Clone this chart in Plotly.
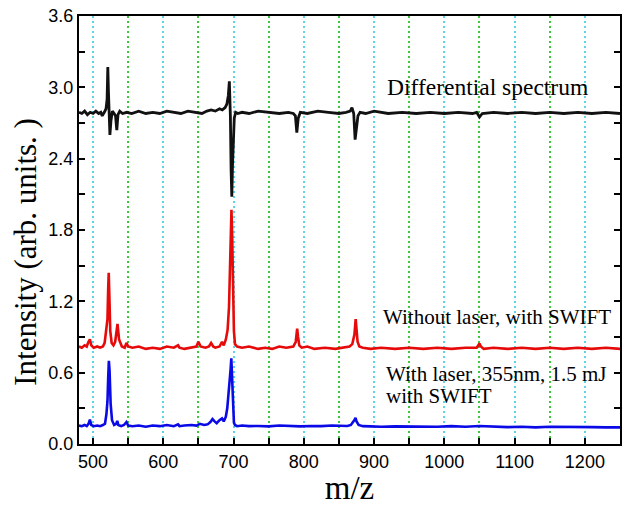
import plotly.graph_objects as go

# ---- spectra (m/z, intensity in arb. units) ----
# With laser, 355 nm, 1.5 mJ, with SWIFT
laser_mz = [480, 484, 488, 491, 493.5, 495.5, 497.5, 501, 506, 510, 514, 517, 519, 520.5,
            521.5, 522.5, 523.5, 525, 527, 530, 533, 534.5, 536, 540, 544, 547.5, 550,
            556, 565, 575, 585, 595, 605, 615, 621, 623, 630, 640, 647, 652, 658, 663,
            667, 670, 673, 676, 680, 683.5, 686, 689, 691, 693, 694.5, 695.8, 696.8,
            697.8, 699, 700.5, 702, 705, 712, 722, 735, 750, 765, 780, 795, 810, 825,
            840, 852, 862, 867, 870.5, 872.5, 873.6, 875, 878, 884, 895, 910, 930, 950,
            970, 990, 1010, 1030, 1050, 1070, 1090, 1110, 1130, 1150, 1170, 1190, 1210,
            1230, 1250]
laser_int = [0.155, 0.15, 0.16, 0.15, 0.17, 0.205, 0.16, 0.15, 0.155, 0.15, 0.16, 0.17, 0.25, 0.36,
             0.55, 0.70, 0.62, 0.34, 0.2, 0.16, 0.17, 0.195, 0.16, 0.15, 0.16, 0.185, 0.155,
             0.15, 0.155, 0.145, 0.155, 0.15, 0.16, 0.15, 0.165, 0.15, 0.155, 0.16, 0.155, 0.17, 0.16, 0.165,
             0.185, 0.21, 0.19, 0.175, 0.2, 0.215, 0.19, 0.23, 0.3, 0.42, 0.5, 0.63, 0.72,
             0.6, 0.35, 0.18, 0.16, 0.15, 0.155, 0.15, 0.152, 0.148, 0.155, 0.15, 0.148, 0.152, 0.15,
             0.155, 0.15, 0.152, 0.16, 0.185, 0.205, 0.22, 0.19, 0.16, 0.15, 0.148, 0.145, 0.148, 0.145,
             0.148, 0.145, 0.15, 0.145, 0.152, 0.145, 0.142, 0.145, 0.14, 0.145, 0.142, 0.14, 0.142,
             0.14, 0.14]

# Without laser, with SWIFT
dark_mz = [480, 484, 488, 491, 493.5, 495.5, 497.5, 501, 506, 510, 514, 516.5, 518.5, 520.5,
           521.5, 522.3, 523.2, 524.5, 526.5, 529, 531.5, 533, 534.8, 537, 541, 545, 547.5,
           550, 556, 565, 575, 585, 595, 605, 615, 621, 623, 630, 640, 647, 650, 653, 660,
           665, 668, 671, 674, 680, 683.5, 686, 689, 691.5, 693.5, 695, 696, 697, 698,
           699.2, 700.5, 702, 705, 712, 722, 735, 745, 755, 765, 775, 785, 788.5, 790.5,
           791.8, 793.5, 797, 805, 815, 830, 845, 858, 865, 869, 872, 873.8, 875, 876.5,
           879, 884, 895, 910, 930, 950, 970, 990, 1010, 1030, 1046, 1050, 1052, 1056,
           1070, 1090, 1110, 1130, 1150, 1170, 1190, 1210, 1230, 1250]
dark_int = [0.82, 0.81, 0.83, 0.82, 0.86, 0.88, 0.83, 0.81, 0.82, 0.81, 0.82, 0.85, 0.95, 1.05,
            1.3, 1.44, 1.25, 0.95, 0.85, 0.83, 0.86, 0.95, 1.01, 0.88, 0.82, 0.81, 0.85,
            0.82, 0.81, 0.82, 0.8, 0.81, 0.8, 0.82, 0.81, 0.83, 0.81, 0.8, 0.81, 0.82, 0.86, 0.82, 0.81,
            0.82, 0.85, 0.82, 0.81, 0.82, 0.86, 0.83, 0.88, 0.96, 1.15, 1.55, 1.85, 1.97, 1.75,
            1.3, 0.95, 0.84, 0.82, 0.81, 0.82, 0.8, 0.81, 0.8, 0.82, 0.81, 0.82, 0.86, 0.97,
            0.9, 0.83, 0.81, 0.82, 0.8, 0.81, 0.8, 0.81, 0.82, 0.84, 0.92, 1.05, 0.98, 0.86,
            0.82, 0.81, 0.8, 0.81, 0.8, 0.81, 0.8, 0.81, 0.8, 0.81, 0.81, 0.845, 0.82, 0.8,
            0.81, 0.8, 0.81, 0.8, 0.81, 0.8, 0.81, 0.8, 0.81, 0.8]

# Differential spectrum (offset)
diff_mz = [480, 484, 488, 492, 496, 500, 504, 508, 511, 513, 516, 518.5, 520, 521, 522,
           523, 524, 525.5, 527.5, 530, 532, 533.8, 535.5, 538, 542, 548, 555, 565, 575,
           585, 595, 605, 615, 625, 635, 645, 655, 662, 668, 674, 680, 684, 688, 690.5,
           692.5, 694, 695.5, 696.5, 697.5, 698.5, 699.5, 701, 703, 706, 712, 722, 735,
           750, 765, 778, 785, 788, 790, 792, 795, 805, 820, 835, 850, 860, 866, 868.5,
           871, 873, 875, 877, 880, 888, 900, 920, 940, 960, 980, 1000, 1020, 1040, 1046,
           1050, 1054, 1070, 1090, 1110, 1130, 1150, 1170, 1190, 1210, 1230, 1250]
diff_int = [2.79, 2.78, 2.8, 2.77, 2.79, 2.78, 2.8, 2.78, 2.79, 2.76, 2.79, 2.82, 2.9, 3.17, 2.95,
            2.7, 2.6, 2.72, 2.8, 2.78, 2.76, 2.64, 2.77, 2.8, 2.78, 2.79, 2.78, 2.8, 2.78,
            2.79, 2.78, 2.8, 2.79, 2.78, 2.8, 2.79, 2.78, 2.8, 2.81, 2.8, 2.82, 2.81, 2.83, 2.86,
            2.93, 3.05, 2.75, 2.3, 2.08, 2.35, 2.62, 2.74, 2.79, 2.78, 2.79, 2.78, 2.8,
            2.79, 2.78, 2.79, 2.78, 2.76, 2.62, 2.74, 2.79, 2.78, 2.8, 2.79, 2.78, 2.79, 2.8, 2.83,
            2.78, 2.56, 2.68, 2.76, 2.79, 2.78, 2.8, 2.78, 2.79, 2.78, 2.79, 2.78, 2.79, 2.78, 2.79,
            2.75, 2.78, 2.79, 2.78, 2.79, 2.78, 2.79, 2.78, 2.79, 2.78, 2.79, 2.78]

# ---- axis ticks ----
x_range = [480, 1250]
y_range = [0, 3.6]
x_major = [500, 600, 700, 800, 900, 1000, 1100, 1200]
y_major = [0.0, 0.6, 1.2, 1.8, 2.4, 3.0, 3.6]

serif = "Liberation Serif, Times New Roman, serif"
sans = "Liberation Sans, Arial, sans-serif"

fig = go.Figure()
fig.add_trace(go.Scatter(x=laser_mz, y=laser_int, mode="lines",
                         line=dict(color="#0a0ae6", width=2.6), showlegend=False))
fig.add_trace(go.Scatter(x=dark_mz, y=dark_int, mode="lines",
                         line=dict(color="#e60a0a", width=2.6), showlegend=False))
fig.add_trace(go.Scatter(x=diff_mz, y=diff_int, mode="lines",
                         line=dict(color="#111111", width=2.8), showlegend=False))

labels = [
    dict(text="Differential spectrum", x=1062, y=3.0, xanchor="center", size=23.5),
    dict(text="Without laser, with SWIFT", x=1075, y=1.07, xanchor="center", size=21),
    dict(text="With laser, 355nm, 1.5 mJ", x=914, y=0.59, xanchor="left", size=21),
    dict(text="with SWIFT", x=914, y=0.405, xanchor="left", size=21),
]
for lab in labels:
    fig.add_annotation(text=lab["text"], x=lab["x"], y=lab["y"], xref="x", yref="y",
                       xanchor=lab["xanchor"], yanchor="middle", showarrow=False,
                       font=dict(family=serif, size=lab["size"], color="black"))

# y-axis title placed as rotated text left of the tick labels
fig.add_annotation(text="Intensity (arb. units. )", x=-0.098, y=0.449,
                   xref="paper", yref="paper", textangle=-90, showarrow=False,
                   xanchor="center", yanchor="middle",
                   font=dict(family=serif, size=31, color="black"))

fig.update_xaxes(
    range=x_range, tickvals=x_major, ticks="inside", ticklen=6, tickwidth=1.5,
    tickcolor="black", showline=True, linewidth=2, linecolor="black", mirror=True,
    showgrid=True, gridcolor="#5ad6e6", griddash="2px,3px", gridwidth=1.5, zeroline=False,
    tickfont=dict(family=sans, size=18, color="black"),
    minor=dict(dtick=50, tick0=0, ticks="inside", ticklen=6, tickwidth=1.5,
               tickcolor="black", showgrid=True, gridcolor="#3cc83c",
               griddash="2px,3px", gridwidth=1.5),
    title=dict(text="m/z", font=dict(family=serif, size=33, color="black"), standoff=5),
)
fig.update_yaxes(
    range=y_range, tickvals=y_major, tickformat=".1f", ticks="inside", ticklen=6,
    tickwidth=1.5, tickcolor="black", showline=True, linewidth=2, linecolor="black",
    mirror="ticks", showgrid=False, zeroline=False,
    tickfont=dict(family=sans, size=18, color="black"),
    minor=dict(dtick=0.3, tick0=0, ticks="inside", ticklen=6, tickwidth=1.5,
               tickcolor="black", showgrid=False),
)
fig.update_layout(
    width=628, height=506, margin=dict(l=79, r=6, t=15, b=57),
    paper_bgcolor="white", plot_bgcolor="white",
)
fig.write_html("out.html")
